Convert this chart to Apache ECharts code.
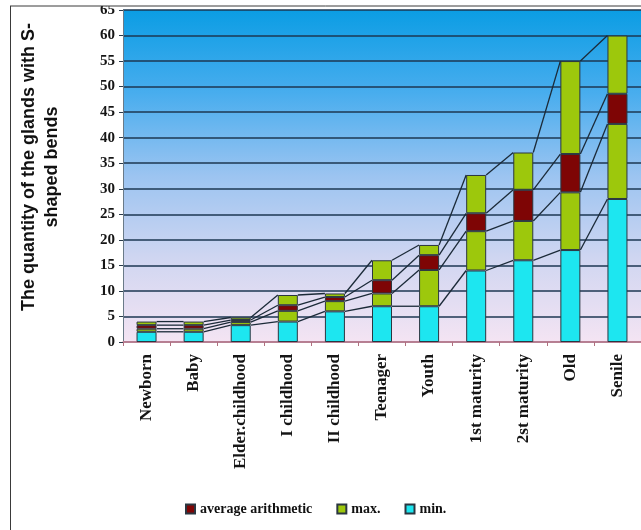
<!DOCTYPE html>
<html>
<head>
<meta charset="utf-8">
<script src="https://cdn.jsdelivr.net/npm/echarts@6/dist/echarts.min.js"></script>
<style>
  html, body { margin: 0; padding: 0; background: #ffffff; }
  #chart { width: 641px; height: 530px; }
</style>
</head>
<body>
<div id="chart"></div>
<script>
// Age periods
const categories = ['Newborn', 'Baby', 'Elder.childhood', 'I childhood', 'II childhood',
  'Teenager', 'Youth', '1st maturity', '2st maturity', 'Old', 'Senile'];

// Number of glands with S-shaped bends per period
const minValues     = [2,   2,   3.3, 4,   6,   7,    7,    14,   16,   18,   28];
const avgLowValues  = [2.6, 2.6, 3.9, 6.1, 8,   9.5,  14.1, 21.7, 23.7, 29.3, 42.7];
const avgHighValues = [3.3, 3.3, 4.3, 7.2, 8.8, 12.1, 17,   25.2, 29.8, 36.8, 48.6];
const maxValues     = [4,   4,   4.8, 9.2, 9.5, 16,   19,   32.7, 37.1, 55,   60];

// Y axis range
const yMin = 0, yMax = 65, yStep = 5;

const BAR_W = 20;
const serif = '"Liberation Serif", "DejaVu Serif", serif';

const diff = (a, b) => a.map((v, i) => +(v - b[i]).toFixed(2));

const chart = echarts.init(document.getElementById('chart'), null, { renderer: 'canvas' });

const barEdge = { borderColor: '#2b3640', borderWidth: 1 };

const levels = [minValues, avgLowValues, avgHighValues, maxValues];

chart.setOption({
  animation: false,
  backgroundColor: '#ffffff',
  grid: {
    left: 123, width: 520, top: 10, height: 332,
    show: true,
    borderWidth: 0,
    backgroundColor: new echarts.graphic.LinearGradient(0, 0, 0, 1, [
      { offset: 0, color: '#0b9de4' },
      { offset: 0.25, color: '#48adee' },
      { offset: 0.5, color: '#9cc4f1' },
      { offset: 0.75, color: '#d0d6f1' },
      { offset: 1, color: '#f4e4f3' }
    ])
  },
  legend: {
    data: ['average arithmetic', 'max.', 'min.'],
    left: 180, top: 497,
    itemWidth: 9, itemHeight: 9, itemGap: 24,
    icon: 'rect',
    textStyle: { fontFamily: serif, fontWeight: 'bold', fontSize: 14, color: '#111' }
  },
  xAxis: {
    type: 'category',
    data: categories,
    axisLine: { lineStyle: { color: '#d7889a', width: 1.5 } },
    axisTick: { show: true, length: 4, lineStyle: { color: '#b07080' } },
    axisLabel: {
      rotate: 90, margin: 12, interval: 0,
      fontFamily: serif, fontWeight: 'bold', fontSize: 17, color: '#151515'
    }
  },
  yAxis: {
    type: 'value',
    min: yMin, max: yMax, interval: yStep,
    axisLine: { show: true, lineStyle: { color: '#6a7a88', width: 1 } },
    axisTick: { show: true, length: 4, lineStyle: { color: '#2a3a4a' } },
    axisLabel: {
      margin: 8,
      fontFamily: serif, fontWeight: 'bold', fontSize: 15, color: '#151515'
    },
    splitLine: { show: true, lineStyle: { color: '#1c3752', width: 1.6 } }
  },
  graphic: [
    { type: 'rect', z: 100, shape: { x: 0, y: 0, width: 641, height: 6 }, style: { fill: '#ffffff' } },
    { type: 'line', z: 101, shape: { x1: 10, y1: 6, x2: 641, y2: 6 }, style: { stroke: '#3a3a3a', lineWidth: 1 } },
    { type: 'line', z: 101, shape: { x1: 10.5, y1: 6, x2: 10.5, y2: 530 }, style: { stroke: '#3a3a3a', lineWidth: 1 } },
    {
      type: 'text', x: 41, y: 167, rotation: Math.PI / 2,
      style: {
        text: 'The quantity of the glands with S-\nshaped bends',
        font: 'bold 18px "Liberation Sans", Arial, sans-serif',
        fill: '#111', textAlign: 'center', textVerticalAlign: 'middle', lineHeight: 23
      }
    }
  ],
  series: [
    {
      name: 'min.', type: 'bar', stack: 'g', barWidth: BAR_W,
      itemStyle: Object.assign({ color: '#1de6f0' }, barEdge),
      data: minValues
    },
    {
      name: 'max.', type: 'bar', stack: 'g', barWidth: BAR_W,
      itemStyle: Object.assign({ color: '#9dc80c' }, barEdge),
      data: diff(avgLowValues, minValues)
    },
    {
      name: 'average arithmetic', type: 'bar', stack: 'g', barWidth: BAR_W,
      itemStyle: Object.assign({ color: '#7e0505' }, barEdge),
      data: diff(avgHighValues, avgLowValues)
    },
    {
      name: 'max.', type: 'bar', stack: 'g', barWidth: BAR_W,
      itemStyle: Object.assign({ color: '#9dc80c' }, barEdge),
      data: diff(maxValues, avgHighValues)
    },
    {
      // series lines joining each stack boundary to the next bar
      type: 'custom', name: 'connectors', silent: true, z: 5,
      data: categories.slice(0, -1).map((c, i) => [i]),
      encode: { x: 0 },
      renderItem: function (params, api) {
        const i = params.dataIndex;
        const children = levels.map(arr => {
          const p1 = api.coord([i, arr[i]]);
          const p2 = api.coord([i + 1, arr[i + 1]]);
          return {
            type: 'line',
            shape: { x1: p1[0] + BAR_W / 2, y1: p1[1], x2: p2[0] - BAR_W / 2, y2: p2[1] },
            style: { stroke: '#1b2a38', lineWidth: 1.3 }
          };
        });
        return { type: 'group', children: children };
      }
    }
  ]
});
</script>
</body>
</html>
